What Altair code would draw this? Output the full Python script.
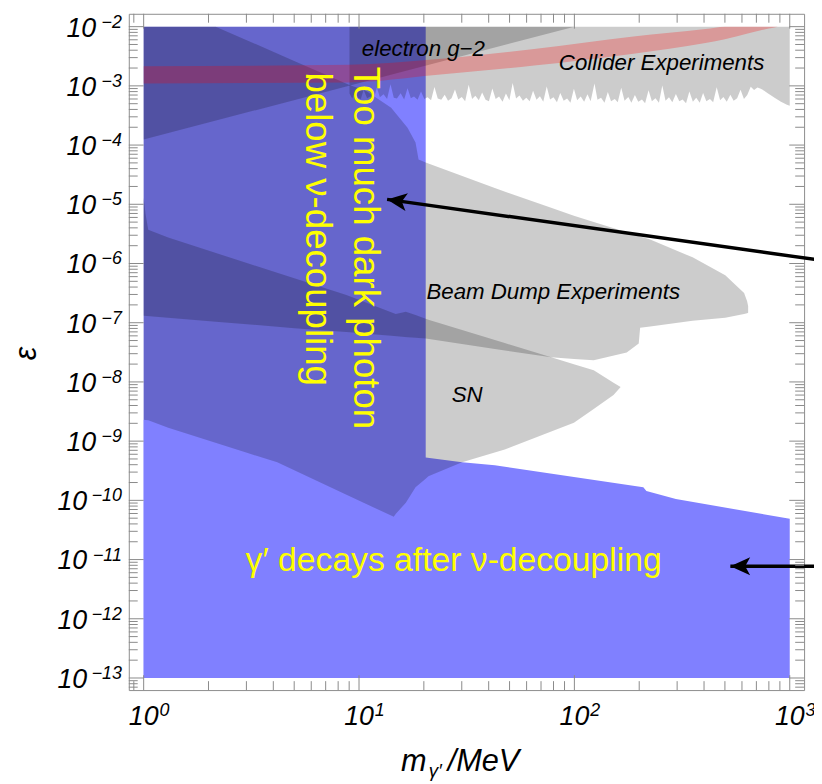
import altair as alt
import pandas as pd

# ---------------- data (m in MeV, eps = kinetic mixing) ----------------
eps_floor = 1e-13
eps_ceiling = 1e-2

# blue: too much dark photon below nu-decoupling
too_much_m = [1.0, 20.4]
too_much_eps = [1e-13, 1e-2]

# blue: gamma' decays after nu-decoupling (upper edge)
after_m = [1.0, 20.4, 30.1, 42.7, 209.0, 216.0, 296.0, 1000.0]
after_top = [2.3e-9, 5.3e-10, 4.4e-10, 3.9e-10, 1.67e-10, 1.44e-10, 1.05e-10, 4.9e-11]

# electron g-2 exclusion (lower edge)
eg2_m = [1.0, 100.0]
eg2_eps = [1.24e-4, 1e-2]

# beam dump experiments
bd_m = [1.0, 2.16, 5.0, 9.03, 10.8, 14.1, 16.8, 18.3, 18.9, 20.4, 42.7, 78.0,
        99.5, 123.0, 175.0, 199.0, 202.0, 225.0, 354.0, 502.0, 614.0, 634.0, 641.0]
bd_lo = [1.31e-7, 1.04e-7, 8.1e-8, 6.9e-8, 6.5e-8, 6.0e-8, 5.7e-8, 5.56e-8, 5.5e-8,
         5.4e-8, 3.6e-8, 2.6e-8, 2.45e-8, 2.32e-8, 3.15e-8, 4.46e-8, 8.2e-8, 8.6e-8,
         1.08e-7, 1.21e-7, 1.4e-7, 1.45e-7, 1.47e-7]
bd_hi = [1e-2, 1e-2, 2.64e-3, 1.03e-3, 8.2e-4, 4.26e-4, 1.97e-4, 1.1e-4, 5.7e-5,
         5.1e-5, 1.88e-5, 8.7e-6, 6.4e-6, 5.0e-6, 3.37e-6, 2.91e-6, 2.86e-6, 2.54e-6,
         1.27e-6, 6.35e-7, 3.18e-7, 2.3e-7, 1.92e-7]

# supernova
sn_m = [1.0, 1.02, 1.05, 1.3, 3.04, 4.17, 8.74, 14.5, 14.8, 16.5, 18.3, 20.4, 21.0,
        30.1, 47.5, 78.1, 99.5, 123.0, 152.0, 164.0]
sn_lo = [2.3e-9, 2.27e-9, 2.25e-9, 1.69e-9, 6.3e-10, 4.38e-10, 1.24e-10, 5.27e-11,
         5.9e-11, 9.1e-11, 1.67e-10, 2.32e-10, 2.56e-10, 4.38e-10, 7.24e-10, 1.46e-9,
         2.05e-9, 3.5e-9, 6.0e-9, 8.2e-9]
sn_hi = [1.3e-5, 6.9e-6, 3.73e-6, 2.74e-6, 1.01e-6, 6.97e-7, 2.94e-7, 1.45e-7,
         1.41e-7, 1.53e-7, 1.35e-7, 1.17e-7, 1.12e-7, 7.5e-8, 4.53e-8, 2.6e-8,
         1.99e-8, 1.57e-8, 9.7e-9, 8.2e-9]

# collider experiments: jagged lower edge, (m, eps / 1e-4)
collider = [
    (9.03, 7.4), (9.3, 6.1), (9.6, 7.9), (9.9, 6.3), (10.2, 6.0), (10.5, 8.6),
    (10.9, 6.2), (11.3, 6.6), (11.7, 5.9), (12.1, 9.4), (12.5, 6.4), (13.0, 7.2),
    (13.5, 6.0), (14.0, 10.6), (14.5, 6.3), (15.0, 6.1), (15.6, 7.5), (16.2, 5.9),
    (16.8, 9.1), (17.4, 6.2), (18.0, 6.6), (18.7, 5.8), (19.4, 8.0), (20.1, 6.0),
    (20.8, 6.4), (21.6, 5.7), (22.4, 9.6), (23.2, 6.1), (24.1, 5.8), (25.0, 7.1),
    (25.9, 5.6), (26.9, 6.2), (27.9, 8.7), (28.9, 5.9), (30.0, 6.5), (31.1, 5.5),
    (32.3, 10.4), (33.5, 6.0), (34.7, 6.8), (36.0, 5.7), (37.3, 7.7), (38.7, 5.8),
    (40.1, 5.5), (41.6, 9.0), (43.1, 6.0), (44.7, 6.6), (46.4, 5.4), (48.1, 7.4),
    (49.9, 5.7), (51.7, 11.2), (53.6, 6.1), (55.6, 6.9), (57.7, 5.6), (59.8, 6.3),
    (62.0, 5.5), (64.3, 8.3), (66.7, 5.8), (69.2, 6.7), (71.7, 5.4), (74.4, 9.8),
    (77.1, 5.9), (80.0, 6.4), (83.0, 5.3), (86.0, 7.6), (89.2, 5.6), (92.5, 6.1),
    (95.9, 5.2), (99.5, 8.9), (103.0, 5.7), (107.0, 6.6), (111.0, 5.4), (115.0, 7.2),
    (119.0, 5.5), (124.0, 11.0), (128.0, 5.8), (133.0, 6.3), (138.0, 5.2), (143.0, 7.9),
    (148.0, 5.5), (154.0, 6.0), (159.0, 5.3), (165.0, 9.3), (171.0, 5.6), (178.0, 6.5),
    (184.0, 5.2), (191.0, 7.0), (198.0, 5.4), (206.0, 5.9), (213.0, 5.1), (221.0, 8.4),
    (229.0, 5.5), (238.0, 6.2), (247.0, 5.2), (256.0, 10.1), (265.0, 5.6), (275.0, 6.4),
    (285.0, 5.3), (296.0, 7.3), (307.0, 5.5), (318.0, 5.9), (330.0, 5.1), (342.0, 8.0),
    (355.0, 5.4), (368.0, 6.3), (382.0, 5.2), (396.0, 7.6), (410.0, 5.5), (426.0, 6.0),
    (441.0, 5.3), (458.0, 9.5), (475.0, 5.7), (492.0, 6.5), (510.0, 5.4), (530.0, 7.1),
    (549.0, 5.6), (570.0, 6.2), (591.0, 8.6), (613.0, 6.0), (635.0, 7.0), (659.0, 9.7),
    (683.0, 8.5), (708.0, 9.4), (734.0, 8.9), (761.0, 8.3), (790.0, 7.5), (820.0, 6.9),
    (850.0, 6.3), (880.0, 5.8), (910.0, 5.4), (940.0, 5.1), (970.0, 4.8), (1000.0, 4.6),
]

# muon g-2 favoured band
band_m = [1.0, 9.0, 22.6, 65.0, 188.0, 406.0, 500.0, 570.0, 800.0, 880.0]
band_lo = [1.1e-3, 1.14e-3, 1.52e-3, 2.2e-3, 3.5e-3, 5.3e-3, 6.1e-3, 6.9e-3, 9.3e-3, 1e-2]
band_hi = [2.15e-3, 2.28e-3, 2.81e-3, 4.2e-3, 6.8e-3, 9.1e-3, 1e-2, 1e-2, 1e-2, 1e-2]

# annotation anchors
black_labels = ["electron g\u22122", "Collider Experiments", "Beam Dump Experiments", "SN"]
black_m = [19.9, 254.0, 79.8, 31.8]
black_eps = [3.21e-3, 1.86e-3, 2.52e-7, 4.6e-9]

vert_labels = ["Too much dark photon", "below \u03bd-decoupling"]
vert_m = [9.5, 5.65]
vert_eps = [1.83e-6, 3.8e-6]

bottom_label = ["\u03b3\u2032 decays after \u03bd-decoupling"]
bottom_m = [27.5]
bottom_eps = [6.35e-12]

arrow_tail_m = [1400.0, 1400.0]
arrow_tail_eps = [1.13e-6, 7.7e-12]
arrow_tip_m = [13.5, 530.0]
arrow_tip_eps = [1.21e-5, 7.7e-12]

# axis ticks / labels
x_major = [1.0, 10.0, 100.0, 1000.0]
x_exp = ["0", "1", "2", "3"]
y_exp_int = [-2, -3, -4, -5, -6, -7, -8, -9, -10, -11, -12, -13]
minor_mult = [2, 3, 4, 5, 6, 7, 8, 9]

# ---------------- layout ----------------
W, H = 682, 683
X_DOM = [0.853, 1166.0]
Y_DOM = [6.25e-14, 1.649e-2]
xs = alt.Scale(type="log", domain=X_DOM, nice=False)
ys = alt.Scale(type="log", domain=Y_DOM, nice=False)
FONT = "Liberation Sans"
TICK = "#8a8a8a"
BLUE = "#8080ff"


def X(f):
    return alt.X(f, type="quantitative", scale=xs, axis=None)


def Y(f):
    return alt.Y(f, type="quantitative", scale=ys, axis=None)


layers = []

# blue regions
df_r1 = pd.DataFrame({"m0": [too_much_m[0]], "m1": [too_much_m[1]],
                      "e0": [too_much_eps[0]], "e1": [too_much_eps[1]]})
layers.append(alt.Chart(df_r1).mark_rect(color=BLUE).encode(
    x=X("m0"), x2=alt.X2("m1"), y=Y("e0"), y2=alt.Y2("e1")))

df_r2 = pd.DataFrame({"m": after_m, "lo": [eps_floor] * len(after_m), "hi": after_top})
layers.append(alt.Chart(df_r2).mark_area(color=BLUE, opacity=1).encode(
    x=X("m"), y=Y("lo"), y2=alt.Y2("hi")))


def gray_area(m, lo, hi):
    df = pd.DataFrame({"m": m, "lo": lo, "hi": hi})
    return alt.Chart(df).mark_area(color="black", opacity=0.2).encode(
        x=X("m"), y=Y("lo"), y2=alt.Y2("hi"))


layers.append(gray_area(eg2_m, eg2_eps, [eps_ceiling] * len(eg2_m)))
layers.append(gray_area(bd_m, bd_lo, bd_hi))
layers.append(gray_area(sn_m, sn_lo, sn_hi))
layers.append(gray_area([c[0] for c in collider], [c[1] * 1e-4 for c in collider],
                        [eps_ceiling] * len(collider)))

# red band
df_band = pd.DataFrame({"m": band_m, "lo": band_lo, "hi": band_hi})
layers.append(alt.Chart(df_band).mark_area(color="#ff0000", opacity=0.25,
                                            interpolate="monotone").encode(
    x=X("m"), y=Y("lo"), y2=alt.Y2("hi")))

# black italic labels
df_bl = pd.DataFrame({"label": black_labels, "m": black_m, "eps": black_eps})
layers.append(alt.Chart(df_bl).mark_text(font=FONT, fontStyle="italic", fontSize=22.5,
                                         color="black", align="center",
                                         baseline="alphabetic").encode(
    x=X("m"), y=Y("eps"), text="label:N"))

# yellow labels
df_v = pd.DataFrame({"label": vert_labels, "m": vert_m, "eps": vert_eps})
layers.append(alt.Chart(df_v).mark_text(font=FONT, fontSize=37, color="#ffff00",
                                        align="center", baseline="alphabetic",
                                        angle=90).encode(
    x=X("m"), y=Y("eps"), text="label:N"))

df_b = pd.DataFrame({"label": bottom_label, "m": bottom_m, "eps": bottom_eps})
layers.append(alt.Chart(df_b).mark_text(font=FONT, fontSize=34, color="#ffff00",
                                        align="center", baseline="alphabetic").encode(
    x=X("m"), y=Y("eps"), text="label:N"))

# arrows
df_ar = pd.DataFrame({"m0": arrow_tail_m, "e0": arrow_tail_eps,
                      "m1": arrow_tip_m, "e1": arrow_tip_eps})
layers.append(alt.Chart(df_ar).mark_rule(color="black", strokeWidth=3.5).encode(
    x=X("m0"), x2=alt.X2("m1"), y=Y("e0"), y2=alt.Y2("e1")))
HEAD = "M0,0 L-0.9,2 L0,1.5 L0.9,2 Z"
for i, ang in enumerate([278, 270]):
    dfh = pd.DataFrame({"m": [arrow_tip_m[i]], "eps": [arrow_tip_eps[i]]})
    layers.append(alt.Chart(dfh).mark_point(shape=HEAD, size=400, filled=True,
                                            color="black", opacity=1, angle=ang,
                                            strokeWidth=0).encode(
        x=X("m"), y=Y("eps")))

# frame ticks
x_minor = [k * 10.0 ** d for d in range(-1, 3) for k in minor_mult + [9]
           if X_DOM[0] <= k * 10.0 ** d <= X_DOM[1]]
x_minor = sorted(set(x_minor))
y_major = [10.0 ** e for e in y_exp_int]
y_minor = [k * 10.0 ** d for d in range(-14, -1) for k in minor_mult
           if Y_DOM[0] <= k * 10.0 ** d <= Y_DOM[1]]
df_xM = pd.DataFrame({"m": x_major})
df_xm = pd.DataFrame({"m": x_minor})
df_yM = pd.DataFrame({"eps": y_major})
df_ym = pd.DataFrame({"eps": y_minor})
for df, ln in [(df_xM, 15), (df_xm, 9)]:
    layers.append(alt.Chart(df).mark_rule(color=TICK, strokeWidth=1).encode(
        x=X("m"), y=alt.value(0), y2=alt.value(ln)))
    layers.append(alt.Chart(df).mark_rule(color=TICK, strokeWidth=1).encode(
        x=X("m"), y=alt.value(H), y2=alt.value(H - ln)))
for df, ln in [(df_yM, 15), (df_ym, 9)]:
    layers.append(alt.Chart(df).mark_rule(color=TICK, strokeWidth=1).encode(
        y=Y("eps"), x=alt.value(0), x2=alt.value(ln)))
    layers.append(alt.Chart(df).mark_rule(color=TICK, strokeWidth=1).encode(
        y=Y("eps"), x=alt.value(W), x2=alt.value(W - ln)))

# tick labels: x
df_xl = pd.DataFrame({"m": x_major, "exp": x_exp})
layers.append(alt.Chart(df_xl).mark_text(font=FONT, fontStyle="italic", fontSize=27,
                                         align="center", baseline="alphabetic",
                                         color="black").encode(
    x=X("m"), y=alt.value(H + 35), text=alt.value("10")))
layers.append(alt.Chart(df_xl).mark_text(font=FONT, fontStyle="italic", fontSize=18,
                                         align="left", baseline="alphabetic", dx=16,
                                         color="black").encode(
    x=X("m"), y=alt.value(H + 26), text="exp:N"))

# tick labels: y
df_yl = pd.DataFrame({"eps": y_major,
                      "exp": ["\u2212" + str(-e) for e in y_exp_int],
                      "two": [abs(e) >= 10 for e in y_exp_int]})
layers.append(alt.Chart(df_yl).mark_text(font=FONT, fontStyle="italic", fontSize=18,
                                         align="right", baseline="alphabetic", dy=1,
                                         color="black").encode(
    x=alt.value(-7), y=Y("eps"), text="exp:N"))
layers.append(alt.Chart(df_yl).transform_filter("!datum.two").mark_text(
    font=FONT, fontStyle="italic", fontSize=27, align="right", baseline="alphabetic",
    dy=10, color="black").encode(x=alt.value(-33), y=Y("eps"), text=alt.value("10")))
layers.append(alt.Chart(df_yl).transform_filter("datum.two").mark_text(
    font=FONT, fontStyle="italic", fontSize=27, align="right", baseline="alphabetic",
    dy=10, color="black").encode(x=alt.value(-42), y=Y("eps"), text=alt.value("10")))

# axis titles
one = pd.DataFrame({"a": [0]})
layers.append(alt.Chart(one).mark_text(font=FONT, fontStyle="italic", fontSize=31,
                                       angle=270, align="center", baseline="middle",
                                       color="black").encode(
    x=alt.value(-103), y=alt.value(343), text=alt.value("\u03b5")))
layers.append(alt.Chart(one).mark_text(font=FONT, fontStyle="italic", fontSize=31,
                                       align="left", baseline="alphabetic",
                                       color="black").encode(
    x=alt.value(275), y=alt.value(765), text=alt.value("m")))
layers.append(alt.Chart(one).mark_text(font=FONT, fontStyle="italic", fontSize=19,
                                       align="left", baseline="alphabetic",
                                       color="black").encode(
    x=alt.value(303), y=alt.value(771), text=alt.value("\u03b3\u2032")))
layers.append(alt.Chart(one).mark_text(font=FONT, fontStyle="italic", fontSize=31,
                                       align="left", baseline="alphabetic",
                                       color="black").encode(
    x=alt.value(322), y=alt.value(765), text=alt.value("/MeV")))

chart = alt.layer(*layers).properties(
    width=W, height=H,
    padding={"left": 122, "top": 2, "right": 10, "bottom": 90},
    autosize=alt.AutoSizeParams(type="none"),
).configure_view(stroke="#8c8c8c", strokeWidth=1)

chart.save("out.html", embed_options={"renderer": "svg", "actions": False})
